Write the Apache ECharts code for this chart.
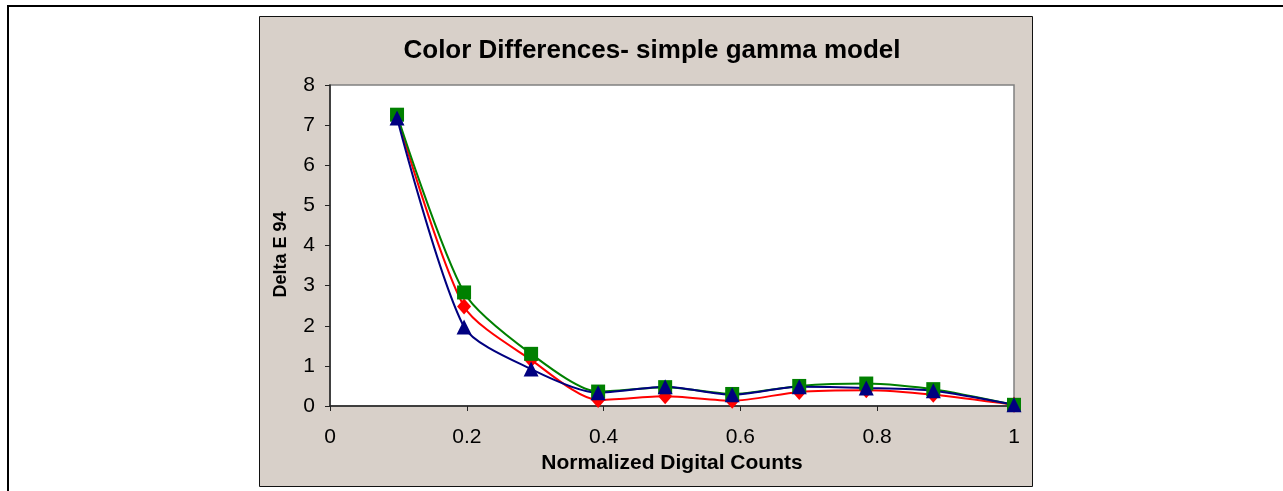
<!DOCTYPE html>
<html>
<head>
<meta charset="utf-8">
<script src="https://cdn.jsdelivr.net/npm/echarts@6/dist/echarts.min.js"></script>
<style>
  html, body { margin: 0; padding: 0; background: #fff; }
  #chart { width: 1283px; height: 491px; }
</style>
</head>
<body>
<div id="chart"></div>
<script>
// normalized digital counts (n/255)
const counts = [0.098, 0.196, 0.294, 0.392, 0.49, 0.588, 0.686, 0.784, 0.882, 1.0]
const redDiamond = [7.22, 2.48, 1.15, 0.15, 0.24, 0.13, 0.35, 0.39, 0.28, 0.03]
const greenSquare = [7.26, 2.83, 1.30, 0.36, 0.47, 0.30, 0.50, 0.56, 0.42, 0.03]
const blueTriangle = [7.18, 1.97, 0.92, 0.33, 0.48, 0.28, 0.48, 0.45, 0.38, 0.03]

const font = 'Arial, "Liberation Sans", sans-serif'

function pairs(ys) {
  return counts.map((x, i) => [x, ys[i]])
}

function makeSeries(name, ys, color, symbol, size) {
  return {
    name: name,
    type: 'line',
    data: pairs(ys),
    smooth: 0.25,
    symbol: symbol,
    symbolSize: size,
    showAllSymbol: true,
    lineStyle: { color: color, width: 2 },
    itemStyle: { color: color },
    animation: false
  }
}

const chart = echarts.init(document.getElementById('chart'))
chart.setOption({
  animation: false,
  graphic: [
    {
      type: 'polyline',
      z: -10,
      shape: { points: [[8, 491], [8, 6], [1283, 6]] },
      style: { stroke: '#000', lineWidth: 2, fill: null }
    },
    {
      type: 'rect',
      z: -10,
      shape: { x: 259.5, y: 16.5, width: 773, height: 470 },
      style: { fill: '#d8d0c9', stroke: '#111', lineWidth: 1 }
    }
  ],
  title: {
    text: 'Color Differences- simple gamma model',
    left: 647,
    top: 33,
    textAlign: 'center',
    textStyle: { fontFamily: font, fontSize: 26, fontWeight: 'bold', color: '#000' }
  },
  grid: {
    left: 330,
    top: 85,
    width: 684,
    height: 321,
    show: true,
    backgroundColor: '#fff',
    borderColor: '#808080',
    borderWidth: 1.5
  },
  xAxis: {
    type: 'value',
    min: 0,
    max: 1,
    interval: 0.2,
    name: 'Normalized Digital Counts',
    nameLocation: 'middle',
    nameGap: 44,
    nameTextStyle: { fontFamily: font, fontSize: 21, fontWeight: 'bold', color: '#000' },
    axisLine: { lineStyle: { color: '#222', width: 1.5 } },
    axisTick: { show: true, inside: false, length: 5, lineStyle: { color: '#222' } },
    axisLabel: { margin: 21, fontFamily: font, fontSize: 21, color: '#000' },
    splitLine: { show: false }
  },
  yAxis: {
    type: 'value',
    min: 0,
    max: 8,
    interval: 1,
    name: 'Delta E 94',
    nameLocation: 'middle',
    nameGap: 40,
    nameTextStyle: { fontFamily: font, fontSize: 18, fontWeight: 'bold', color: '#000', padding: [0, 18, 0, 0] },
    axisLine: { show: true, lineStyle: { color: '#222', width: 1.5 } },
    axisTick: { show: true, inside: false, length: 5, lineStyle: { color: '#222' } },
    axisLabel: { margin: 15, fontFamily: font, fontSize: 21, color: '#000' },
    splitLine: { show: false }
  },
  series: [
    makeSeries('Red', redDiamond, '#ff0000', 'diamond', [14, 16]),
    makeSeries('Green', greenSquare, '#008000', 'rect', 14),
    makeSeries('Blue', blueTriangle, '#000080', 'triangle', 15)
  ]
})
</script>
</body>
</html>
